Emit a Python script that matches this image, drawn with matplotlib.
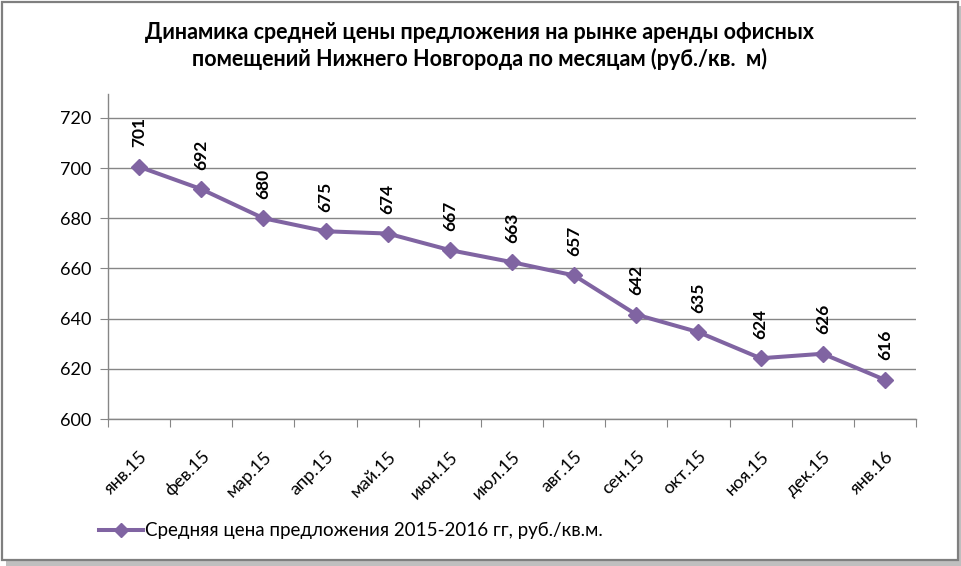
import matplotlib.pyplot as plt
from matplotlib.patches import Rectangle

# ---- data ----
months = ["янв.15", "фев.15", "мар.15", "апр.15", "май.15", "июн.15", "июл.15",
          "авг.15", "сен.15", "окт.15", "ноя.15", "дек.15", "янв.16"]
prices = [700.5, 691.6, 680, 674.8, 673.9, 667.3, 662.5, 657.2, 641.6, 634.6, 624.2, 626.0, 615.6]
price_labels = [701, 692, 680, 675, 674, 667, 663, 657, 642, 635, 624, 626, 616]
y_ticks = [600, 620, 640, 660, 680, 700, 720]

TITLE = ("Динамика средней цены предложения на рынке аренды офисных\n"
         "помещений Нижнего Новгорода по месяцам (руб./кв.  м)")
LEGEND = "Средняя цена предложения 2015-2016 гг, руб./кв.м."

PURPLE = "#8064A2"
GRID = "#868686"

plt.rcParams["font.family"] = ["Lato", "DejaVu Sans"]

W, H = 962, 566
fig = plt.figure(figsize=(W / 100, H / 100), dpi=100)

# outer chart frame with a small shadow
fig.patches.append(Rectangle((6 / W, 0), (W - 6) / W, (H - 6) / H, transform=fig.transFigure,
                             facecolor="#bfbfbf", edgecolor="none", zorder=-3))
fig.patches.append(Rectangle((2 / W, 6 / H), (W - 6) / W, (H - 8) / H, transform=fig.transFigure,
                             facecolor="white", edgecolor="#7f7f7f", linewidth=1.6, zorder=-2))

ax = fig.add_axes([108 / W, 1 - 419 / H, (916 - 108) / W, (419 - 94) / H])
ax.set_facecolor("none")
x = list(range(len(months)))
ax.plot(x, prices, color=PURPLE, linewidth=2.9, marker="D", markersize=8,
        markerfacecolor=PURPLE, markeredgecolor=PURPLE, zorder=3, clip_on=False)

for xi, yi, lab in zip(x, prices, price_labels):
    ax.annotate(str(lab), (xi, yi), xytext=(0, 14), textcoords="offset points",
                rotation=90, ha="center", va="bottom", fontsize=12.5, fontweight="bold")

ax.set_xlim(-0.5, len(months) - 0.5)
ax.set_ylim(600, 729.5)
ax.set_yticks(y_ticks)
ax.set_yticklabels([str(v) for v in y_ticks], fontsize=13)
ax.yaxis.grid(True, color=GRID, linewidth=1)
ax.set_axisbelow(True)

ax.set_xticks([i - 0.5 for i in range(len(months) + 1)])
ax.set_xticklabels([])
ax.set_xticks(x, minor=True)
ax.set_xticklabels(months, minor=True, rotation=45, ha="right", va="top",
                   rotation_mode="anchor", fontsize=13)
ax.tick_params(axis="x", which="minor", length=0, pad=21)
ax.tick_params(axis="x", which="major", length=6, color=GRID, direction="out")
ax.tick_params(axis="y", length=6, color=GRID, direction="out", pad=6)

for side in ("top", "right"):
    ax.spines[side].set_visible(False)
for side in ("left", "bottom"):
    ax.spines[side].set_color(GRID)
    ax.spines[side].set_linewidth(1)

fig.text(480 / W, 1 - 46 / H, TITLE, ha="center", va="center", fontsize=15.5,
         fontweight="bold", linespacing=1.3)

# legend entry
leg_y = 1 - 530 / H
fig.add_artist(plt.Line2D([99 / W, 143 / W], [leg_y, leg_y], transform=fig.transFigure,
                          color=PURPLE, linewidth=2.9))
fig.add_artist(plt.Line2D([121 / W], [leg_y], transform=fig.transFigure, marker="D",
                          markersize=7.5, color=PURPLE))
fig.text(145 / W, leg_y, LEGEND, ha="left", va="center", fontsize=13.5)

fig.savefig("out.png", dpi=100)
